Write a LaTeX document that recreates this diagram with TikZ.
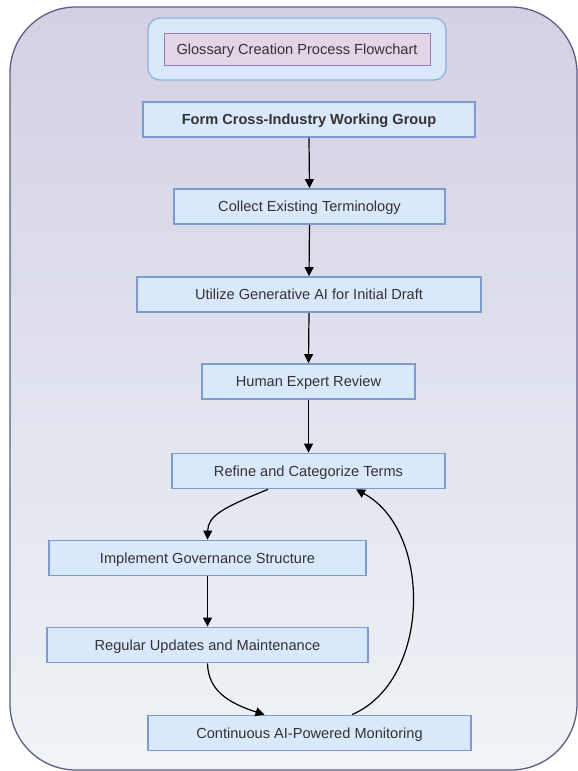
\documentclass[tikz,border=0pt]{standalone}
\usepackage{fontspec}
\setmainfont{Liberation Sans}
\usetikzlibrary{arrows.meta}

\definecolor{panelTop}{HTML}{D3D0E3}
\definecolor{panelBot}{HTML}{EEF4F7}
\definecolor{panelEdge}{HTML}{5E5C88}
\definecolor{stepFill}{HTML}{DAE8FC}
\definecolor{stepEdge}{HTML}{7C9CD0}
\definecolor{headFill}{HTML}{E1D5E7}
\definecolor{headEdge}{HTML}{9A7BAE}
\definecolor{headFrame}{HTML}{8EB0E0}
\definecolor{txt}{HTML}{333333}

\tikzset{
  x=1pt, y=1pt,
  label font/.style={text=txt, font=\fontsize{14.6}{17}\selectfont,
    text height=10.4pt, text depth=0pt},
  stepbox/.style={draw=stepEdge, line width=1.8pt, fill=stepFill, inner sep=0pt,
    minimum height=35pt, label font},
  flow/.style={draw=black, line width=1.2pt, -{Triangle[length=9pt,width=9pt]}}
}

\begin{document}
\begin{tikzpicture}
\useasboundingbox (0,0) rectangle (578,-771);

% background panel with vertical gradient
\begin{scope}
  \clip (0,0) rectangle (578,-771);
  \shade[top color=panelTop, bottom color=panelBot, rounded corners=66pt]
    (10,-7) rectangle (577,-770);
  \draw[panelEdge, line width=1.3pt, rounded corners=66pt]
    (10,-7) rectangle (577,-770);
\end{scope}

% heading
\node[draw=headFrame, fill=stepFill, line width=1.2pt, rounded corners=12pt,
      minimum width=298pt, minimum height=62pt] (frame) at (297,-49) {};
\node[draw=headEdge, fill=headFill, line width=1pt, inner sep=0pt,
      minimum width=266pt, minimum height=32pt, label font]
      (head) at (297,-49) {Glossary Creation Process Flowchart};

% process steps
\node[stepbox, minimum width=332pt, font=\fontsize{14.6}{17}\selectfont\bfseries]
  (form) at (309,-119.5) {Form Cross-Industry Working Group};
\node[stepbox, minimum width=271pt] (collect) at (309.5,-206.5) {Collect Existing Terminology};
\node[stepbox, minimum width=344pt] (draft) at (309,-294.5) {Utilize Generative AI for Initial Draft};
\node[stepbox, minimum width=213pt] (review) at (308.5,-381.5) {Human Expert Review};
\node[stepbox, minimum width=273pt] (refine) at (308.5,-471) {Refine and Categorize Terms};
\node[stepbox, minimum width=317pt] (govern) at (207.5,-558) {Implement Governance Structure};
\node[stepbox, minimum width=321pt] (update) at (207.5,-645) {Regular Updates and Maintenance};
\node[stepbox, minimum width=323pt] (monitor) at (309.5,-733) {Continuous AI-Powered Monitoring};

% connectors
\draw[flow] (form.south) -- (collect.north);
\draw[flow] (collect.south) -- (draft.north);
\draw[flow] (draft.south) -- (review.north);
\draw[flow] (review.south) -- (refine.north);
\draw[flow] ([xshift=-40.5pt]refine.south) .. controls (222,-508) and (208,-516) .. (govern.north);
\draw[flow] (govern.south) -- (update.north);
\draw[flow] (update.south) .. controls (208,-690) and (228,-703) .. ([xshift=-45pt]monitor.north);
\draw[flow] ([xshift=42.5pt]monitor.north) .. controls (432,-680) and (432,-530) .. ([xshift=47.5pt]refine.south);
\end{tikzpicture}
\end{document}
